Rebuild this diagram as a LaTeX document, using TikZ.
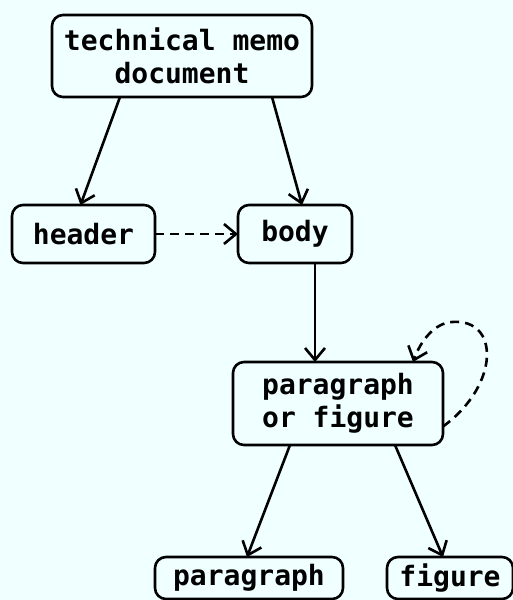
\documentclass[tikz,border=0pt]{standalone}
\usepackage{tikz}
\usepackage{fontspec}
\setmonofont{DejaVu Sans Mono}
\usetikzlibrary{arrows.meta}
\definecolor{paper}{RGB}{240,255,255}

\begin{document}
\begin{tikzpicture}[x=1pt,y=-1pt,line width=2.6pt,
    box/.style={draw,rounded corners=11pt,inner sep=0,outer sep=0,align=center,
        font=\ttfamily\bfseries\fontsize{28}{33}\selectfont},
    arr/.style={-{Straight Barb[length=12pt,width=20pt,line width=2.6pt]}},
    dsh/.style={dash pattern=on 9pt off 6pt}]%

\useasboundingbox (0,0) rectangle (513,600);
\clip (0,0) rectangle (513,600);
\fill[paper] (0,0) rectangle (513,600);

% boxes
\node[box,minimum width=260pt,minimum height=82pt] (memo) at (182,56) {technical memo\\document};

\node[box,minimum width=143pt,minimum height=58pt] (header) at (83.5,234) {header};
\node[box,minimum width=114pt,minimum height=58pt] (body) at (295,234) {body};

\node[box,minimum width=210pt,minimum height=83pt] (pof) at (338,403.5) {paragraph\\or figure};

\node[box,minimum width=188pt,minimum height=42pt] (para) at (249,578) {paragraph};
\node[box,minimum width=126pt,minimum height=42pt] (fig) at (450,578) {figure};

% links
\draw[arr] ([xshift=-62pt]memo.south) -- ([xshift=-3pt]header.north);
\draw[arr] ([xshift=90pt]memo.south) -- ([xshift=7pt]body.north);
\draw[arr,dsh] (header.east) -- (body.west);

\draw[arr] ([xshift=20pt]body.south) -- ([xshift=-23pt]pof.north);
\draw[arr,dsh] ([yshift=-23pt]pof.east) .. controls (500,385) and (500,318) .. (452,322)
    .. controls (435,323) and (421,340) .. ([xshift=75pt]pof.north);

\draw[arr] ([xshift=-48pt]pof.south) -- ([xshift=-2pt]para.north);
\draw[arr] ([xshift=57pt]pof.south) -- ([xshift=-7pt]fig.north);

\end{tikzpicture}
\end{document}
